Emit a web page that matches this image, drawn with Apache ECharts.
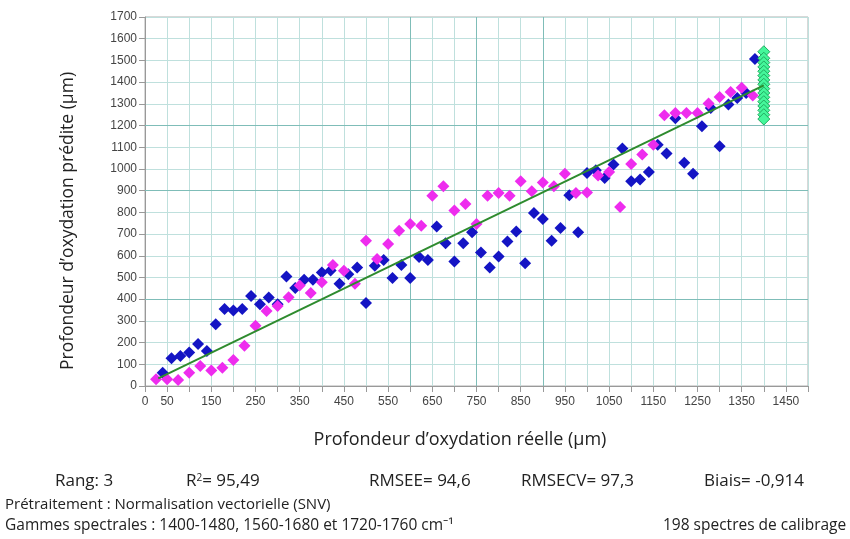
<!DOCTYPE html>
<html><head><meta charset="utf-8">
<script src="https://cdn.jsdelivr.net/npm/echarts@6/dist/echarts.min.js"></script>
<style>html,body{margin:0;padding:0;background:#fff}#c{width:850px;height:539px}</style>
</head><body><div id="c"></div>
<script>
// Blue series (x = réelle, y = prédite)
const blueX = [40,60,80,100,120,140,160,180,200,220,240,260,280,300,320,340,360,380,400,420,440,460,480,500,520,540,560,580,600,620,640,660,680,700,720,740,760,780,800,820,840,860,880,900,920,940,960,980,1000,1020,1040,1060,1080,1100,1120,1140,1160,1180,1200,1220,1240,1260,1280,1300,1320,1340,1360,1380];
const blueY = [61,128,138,154,194,161,285,355,348,355,415,377,408,377,504,451,489,489,523,532,471,515,546,382,554,581,497,558,497,594,581,735,658,574,658,708,615,546,597,666,712,566,797,769,669,728,879,708,981,994,958,1020,1094,943,951,986,1112,1071,1234,1028,978,1197,1281,1104,1297,1327,1350,1507];
// Magenta series
const magX = [25,50,75,100,125,150,175,200,225,250,275,300,325,350,375,400,425,450,475,500,525,550,575,600,625,650,675,700,725,750,775,800,825,850,875,900,925,950,975,1000,1025,1050,1075,1100,1125,1150,1175,1200,1225,1250,1275,1300,1325,1350,1375];
const magY = [31,31,28,61,92,71,84,120,186,277,346,369,409,463,428,478,558,531,471,669,585,654,715,746,738,877,920,809,839,746,877,889,877,943,897,938,920,978,889,892,970,986,825,1023,1066,1112,1247,1258,1258,1258,1301,1332,1354,1374,1338];
// Green series (all at 1400)
const greenX = [1400,1400,1400,1400,1400,1400,1400,1400,1400,1400,1400,1400,1400,1400,1400,1400];
const greenY = [1540,1510,1490,1470,1450,1430,1410,1390,1370,1350,1330,1310,1290,1270,1250,1230];
// Regression line
const lineX = [30,1400];
const lineY = [35,1385];
// Axis
const xMin = 0, xMax = 1500, xStep = 50;
const yMin = 0, yMax = 1700, yStep = 100;
const darkX = [600,750,900];
const darkY = [400,900,1200];

const zip = (a,b) => a.map((v,i)=>[v,b[i]]);
const chart = echarts.init(document.getElementById('c'), null, {renderer:'canvas'});
const labFont = '"Liberation Sans", Arial, sans-serif';
const txtFont = '"Open Sans", "Noto Sans", sans-serif';
const diamond = 12;
chart.setOption({
  animation:false,
  backgroundColor:'#fff',
  grid:{left:145, top:17, width:663, height:369, show:true, borderColor:'#b0b0b0', borderWidth:1},
  xAxis:{type:'value', min:xMin, max:xMax, interval:xStep,
    axisLine:{show:true, lineStyle:{color:'#999'}},
    axisTick:{show:true, length:6, lineStyle:{color:'#999'}},
    axisLabel:{fontFamily:labFont, fontSize:12, color:'#444', margin:10,
      formatter:v => (v===0 || (v-50)%100===0) ? String(v) : ''},
    splitLine:{show:true, lineStyle:{color:'#bfe0dd', width:1}}},
  yAxis:{type:'value', min:yMin, max:yMax, interval:yStep,
    axisLine:{show:true, lineStyle:{color:'#999'}},
    axisTick:{show:true, length:6, lineStyle:{color:'#999'}},
    axisLabel:{fontFamily:labFont, fontSize:12, color:'#444', margin:8, formatter:v => String(v)},
    splitLine:{show:true, lineStyle:{color:'#bfe0dd', width:1}}},
  series:[
    {type:'scatter', data:zip(blueX,blueY), symbol:'diamond', symbolSize:diamond,
      itemStyle:{color:'#1414c4', opacity:1}, z:3},
    {type:'scatter', data:zip(magX,magY), symbol:'diamond', symbolSize:diamond,
      itemStyle:{color:'#ee2cee', opacity:1}, z:3},
    {type:'scatter', data:zip(greenX,greenY), symbol:'diamond', symbolSize:diamond,
      itemStyle:{color:'#44f79a', borderColor:'#22aa60', borderWidth:1, opacity:1}, z:4},
    {type:'line', data:zip(lineX,lineY), symbol:'none', lineStyle:{color:'#2e8b2e', width:2}, z:5,
      markLine:{silent:true, symbol:'none', label:{show:false}, z:1,
        lineStyle:{color:'#7fbdb8', width:1, type:'solid'},
        data:[...darkX.map(v=>({xAxis:v})), ...darkY.map(v=>({yAxis:v}))]}}
  ],
  graphic:[
    {type:'text', x:460, y:440, style:{text:'Profondeur d’oxydation réelle (µm)', font:'18px '+txtFont, fill:'#222', align:'center', verticalAlign:'middle'}},
    {type:'text', x:68, y:221, rotation:Math.PI/2, style:{text:'Profondeur d’oxydation prédite (µm)', font:'17.5px '+txtFont, fill:'#222', align:'center', verticalAlign:'middle'}},
    {type:'text', left:55, top:473, style:{text:'Rang: 3', font:'17px '+txtFont, fill:'#222'}},
    {type:'text', left:186, top:473, style:{text:'R{s|2}= 95,49', font:'17px '+txtFont, fill:'#222',
      rich:{s:{fontSize:10, verticalAlign:'top', padding:[0,0,7,0], fontFamily:txtFont}}}},
    {type:'text', left:369, top:473, style:{text:'RMSEE= 94,6', font:'17px '+txtFont, fill:'#222'}},
    {type:'text', left:521, top:473, style:{text:'RMSECV= 97,3', font:'17px '+txtFont, fill:'#222'}},
    {type:'text', left:704, top:473, style:{text:'Biais= -0,914', font:'17px '+txtFont, fill:'#222'}},
    {type:'text', left:5, top:497, style:{text:'Prétraitement : Normalisation vectorielle (SNV)', font:'15px '+txtFont, fill:'#222'}},
    {type:'text', left:5, top:518, style:{text:'Gammes spectrales : 1400-1480, 1560-1680 et 1720-1760 cm⁻¹', font:'15.5px '+txtFont, fill:'#222'}},
    {type:'text', left:663, top:518, style:{text:'198 spectres de calibrage', font:'15.5px '+txtFont, fill:'#222'}}
  ]
});
</script></body></html>
